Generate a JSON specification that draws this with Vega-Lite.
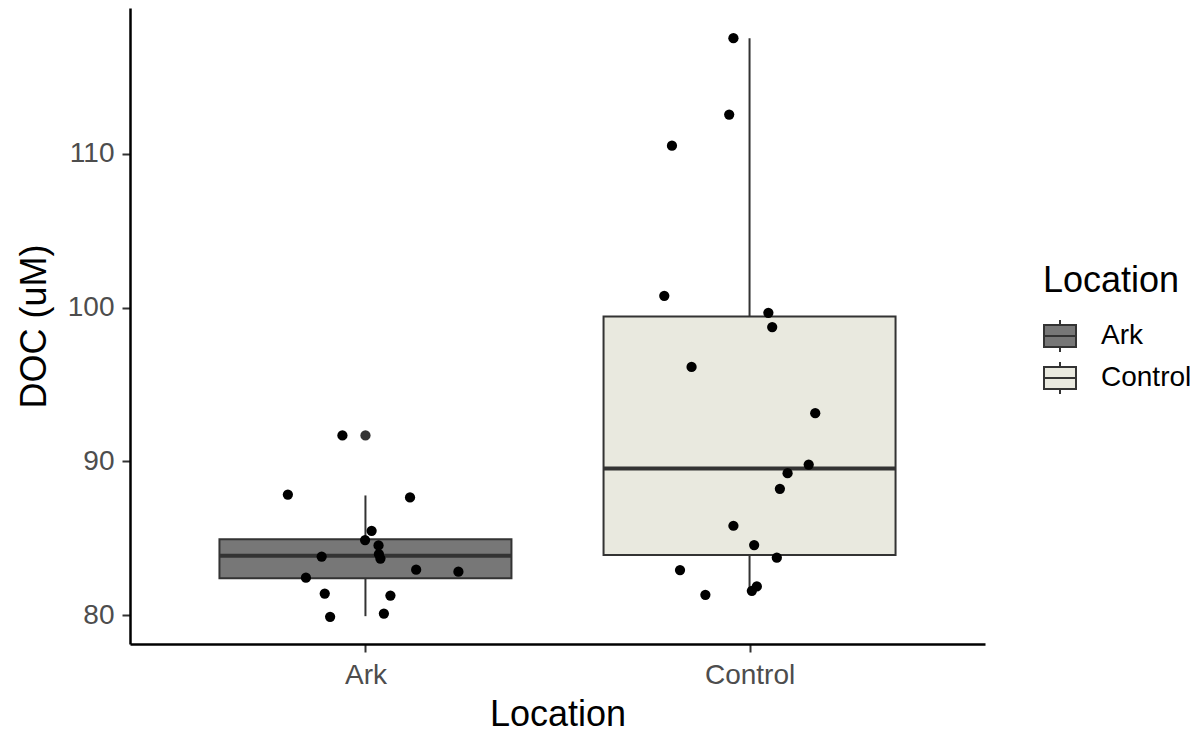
{
  "$schema": "https://vega.github.io/schema/vega-lite/v6.json",
  "width": 855,
  "height": 636,
  "autosize": "none",
  "padding": {"left": 130, "top": 8, "right": 219, "bottom": 92},
  "background": "white",
  "config": {
    "view": {"stroke": null},
    "font": "Liberation Sans",
    "axis": {
      "grid": false,
      "domainColor": "black",
      "domainWidth": 2.5,
      "tickColor": "#333333",
      "tickWidth": 2,
      "tickSize": 8,
      "labelFontSize": 28,
      "labelColor": "#4D4D4D",
      "titleFontSize": 36,
      "titleFontWeight": "normal",
      "titleColor": "black",
      "labelOverlap": false
    }
  },
  "datasets": {
    "boxes": [
      {"Location": "Ark", "pos": 1, "lo": 79.93, "q1": 82.40, "median": 83.86, "q3": 84.94, "hi": 87.78},
      {"Location": "Control", "pos": 2, "lo": 81.58, "q1": 83.90, "median": 89.53, "q3": 99.42, "hi": 117.52}
    ],
    "outliers": [
      {"Location": "Ark", "pos": 1, "DOC": 91.68}
    ],
    "points": [
      {"Location": "Ark", "x": 0.940, "DOC": 91.68},
      {"Location": "Ark", "x": 0.798, "DOC": 87.84},
      {"Location": "Ark", "x": 1.116, "DOC": 87.65},
      {"Location": "Ark", "x": 1.016, "DOC": 85.48},
      {"Location": "Ark", "x": 0.999, "DOC": 84.88},
      {"Location": "Ark", "x": 1.034, "DOC": 84.53},
      {"Location": "Ark", "x": 0.886, "DOC": 83.81},
      {"Location": "Ark", "x": 1.035, "DOC": 83.97},
      {"Location": "Ark", "x": 1.039, "DOC": 83.68},
      {"Location": "Ark", "x": 1.132, "DOC": 82.95},
      {"Location": "Ark", "x": 1.242, "DOC": 82.82},
      {"Location": "Ark", "x": 0.845, "DOC": 82.43},
      {"Location": "Ark", "x": 0.894, "DOC": 81.40},
      {"Location": "Ark", "x": 1.065, "DOC": 81.27},
      {"Location": "Ark", "x": 0.908, "DOC": 79.89},
      {"Location": "Ark", "x": 1.048, "DOC": 80.10},
      {"Location": "Control", "x": 1.958, "DOC": 117.52},
      {"Location": "Control", "x": 1.947, "DOC": 112.55},
      {"Location": "Control", "x": 1.798, "DOC": 110.53},
      {"Location": "Control", "x": 1.778, "DOC": 100.76},
      {"Location": "Control", "x": 2.049, "DOC": 99.66},
      {"Location": "Control", "x": 2.059, "DOC": 98.73},
      {"Location": "Control", "x": 1.849, "DOC": 96.14},
      {"Location": "Control", "x": 2.171, "DOC": 93.13},
      {"Location": "Control", "x": 2.154, "DOC": 89.79},
      {"Location": "Control", "x": 2.099, "DOC": 89.23},
      {"Location": "Control", "x": 2.079, "DOC": 88.21},
      {"Location": "Control", "x": 1.958, "DOC": 85.81},
      {"Location": "Control", "x": 2.012, "DOC": 84.55},
      {"Location": "Control", "x": 2.071, "DOC": 83.73},
      {"Location": "Control", "x": 1.819, "DOC": 82.93},
      {"Location": "Control", "x": 1.885, "DOC": 81.32},
      {"Location": "Control", "x": 2.019, "DOC": 81.86},
      {"Location": "Control", "x": 2.006, "DOC": 81.58}
    ]
  },
  "encoding": {
    "x": {
      "type": "quantitative",
      "scale": {"domain": [0.4, 2.6], "nice": false, "zero": false},
      "axis": {
        "title": "Location",
        "values": [1, 2],
        "labelExpr": "datum.value == 1 ? 'Ark' : 'Control'",
        "labelPadding": 9,
        "titlePadding": 8,
        "labelFlush": false
      }
    },
    "y": {
      "type": "quantitative",
      "scale": {"domain": [78.12, 119.48], "nice": false, "zero": false},
      "axis": {
        "title": "DOC (uM)",
        "values": [80, 90, 100, 110],
        "labelPadding": 8,
        "titlePadding": 14
      }
    }
  },
  "layer": [
    {
      "data": {"name": "boxes"},
      "mark": {"type": "rule", "color": "#333333", "strokeWidth": 2, "opacity": 1},
      "encoding": {
        "x": {"field": "pos"},
        "y": {"field": "lo"},
        "y2": {"field": "hi"}
      }
    },
    {
      "data": {"name": "boxes"},
      "mark": {"type": "bar", "width": 292, "stroke": "#333333", "strokeWidth": 2, "opacity": 1},
      "encoding": {
        "x": {"field": "pos"},
        "y": {"field": "q1"},
        "y2": {"field": "q3"},
        "fill": {
          "field": "Location",
          "type": "nominal",
          "scale": {"domain": ["Ark", "Control"], "range": ["#777777", "#E9E9DF"]},
          "legend": {
            "orient": "none",
            "legendX": 913,
            "legendY": 256,
            "title": "Location",
            "titleFontSize": 36,
            "titleFontWeight": "normal",
            "titleColor": "black",
            "titlePadding": 19,
            "labelFontSize": 28,
            "labelColor": "black",
            "labelOffset": 24,
            "symbolType": "M-1,-0.69H1V0.69H-1Z M-1,0H1 M0,-1V-0.69 M0,0.69V1",
            "symbolSize": 1024,
            "symbolStrokeColor": "#333333",
            "symbolStrokeWidth": 2,
            "symbolOpacity": 1,
            "rowPadding": 2
          }
        }
      }
    },
    {
      "data": {"name": "boxes"},
      "mark": {"type": "tick", "orient": "horizontal", "size": 292, "thickness": 4, "color": "#333333", "opacity": 1},
      "encoding": {
        "x": {"field": "pos"},
        "y": {"field": "median"}
      }
    },
    {
      "data": {"name": "outliers"},
      "mark": {"type": "circle", "size": 105, "color": "#333333", "opacity": 1},
      "encoding": {
        "x": {"field": "pos"},
        "y": {"field": "DOC"}
      }
    },
    {
      "data": {"name": "points"},
      "mark": {"type": "circle", "size": 105, "color": "black", "opacity": 1},
      "encoding": {
        "x": {"field": "x"},
        "y": {"field": "DOC"}
      }
    }
  ]
}
